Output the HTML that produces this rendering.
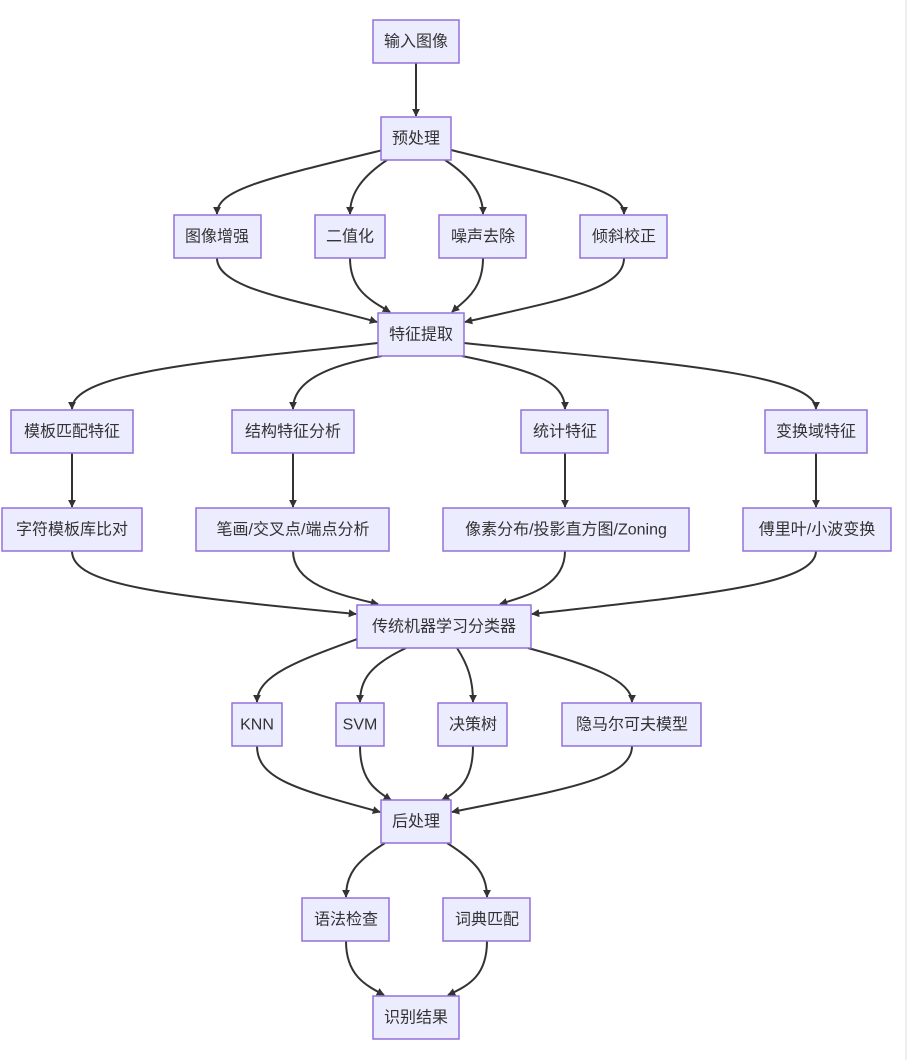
<!DOCTYPE html>
<html><head><meta charset="utf-8"><style>
html,body{margin:0;padding:0;background:#fff;width:918px;height:1060px;overflow:hidden}
svg{display:block}
text{font-family:"Liberation Sans","Noto Sans CJK SC",sans-serif;font-size:16px;fill:#333;text-anchor:middle;dominant-baseline:central}
.n{fill:#ECECFF;stroke:#9370DB;stroke-width:1.5}
.e{fill:none;stroke:#333;stroke-width:2}
</style></head><body>
<svg width="918" height="1060" viewBox="0 0 918 1060">
<defs><marker id="a" viewBox="0 0 10 10" refX="9" refY="5" markerWidth="8" markerHeight="8" markerUnits="userSpaceOnUse" orient="auto"><path d="M0,0L10,5L0,10z" fill="#333"/></marker></defs>
<line x1="906" y1="0" x2="906" y2="1060" stroke="#ddd" stroke-width="1"/>
<g class="e" marker-end="url(#a)">
<path d="M416,63L416,116"/>
<path d="M383,150C260,180 217,190 217,214"/>
<path d="M387,160C360,178 350,195 350,214"/>
<path d="M445,160C472,178 483,195 483,214"/>
<path d="M451,150C572,180 624,190 624,214"/>
<path d="M217,258C217,290 300,300 377,322"/>
<path d="M350,258C350,290 370,300 390,312"/>
<path d="M483,258C483,290 465,300 452,312"/>
<path d="M624,258C624,290 560,300 465,322"/>
<path d="M378,343C230,360 72,370 72,409"/>
<path d="M382,356C330,365 293,380 293,409"/>
<path d="M462,356C530,370 565,380 565,409"/>
<path d="M464,343C620,360 816,370 816,409"/>
<path d="M72,453L72,507"/>
<path d="M293,453L293,507"/>
<path d="M565,453L565,507"/>
<path d="M816,453L816,507"/>
<path d="M72,551C72,585 160,595 356,614"/>
<path d="M293,551C293,585 340,595 378,604"/>
<path d="M565,551C565,585 530,595 500,604"/>
<path d="M816,551C816,585 700,595 532,614"/>
<path d="M360,638C300,660 257,675 257,702"/>
<path d="M406,648C370,665 360,680 360,702"/>
<path d="M457,648C468,665 473,680 473,702"/>
<path d="M528,648C590,665 632,680 632,702"/>
<path d="M257,746C257,780 300,790 380,812"/>
<path d="M360,746C360,780 375,790 391,800"/>
<path d="M473,746C473,780 460,790 442,800"/>
<path d="M632,746C632,780 560,790 452,812"/>
<path d="M385,843C355,862 346,875 346,897"/>
<path d="M447,843C477,862 487,875 487,897"/>
<path d="M346,941C346,975 365,985 384,995"/>
<path d="M487,941C487,975 470,985 448,995"/>
</g>
<rect class="n" x="373" y="20" width="86" height="43"/><text x="416" y="42">输入图像</text>
<rect class="n" x="381" y="117" width="70" height="43"/><text x="416" y="139">预处理</text>
<rect class="n" x="174" y="215" width="87" height="43"/><text x="217" y="237">图像增强</text>
<rect class="n" x="315" y="215" width="70" height="43"/><text x="350" y="237">二值化</text>
<rect class="n" x="439" y="215" width="87" height="43"/><text x="483" y="237">噪声去除</text>
<rect class="n" x="580" y="215" width="87" height="43"/><text x="624" y="237">倾斜校正</text>
<rect class="n" x="378" y="313" width="86" height="43"/><text x="421" y="335">特征提取</text>
<rect class="n" x="11" y="410" width="122" height="43"/><text x="72" y="432">模板匹配特征</text>
<rect class="n" x="232" y="410" width="122" height="43"/><text x="293" y="432">结构特征分析</text>
<rect class="n" x="521" y="410" width="87" height="43"/><text x="565" y="432">统计特征</text>
<rect class="n" x="765" y="410" width="102" height="43"/><text x="816" y="432">变换域特征</text>
<rect class="n" x="2" y="508" width="140" height="43"/><text x="72" y="530">字符模板库比对</text>
<rect class="n" x="196" y="508" width="193" height="43"/><text x="293" y="530">笔画/交叉点/端点分析</text>
<rect class="n" x="443" y="508" width="246" height="43"/><text x="566" y="530">像素分布/投影直方图/Zoning</text>
<rect class="n" x="743" y="508" width="148" height="43"/><text x="817" y="530">傅里叶/小波变换</text>
<rect class="n" x="357" y="605" width="174" height="43"/><text x="444" y="627">传统机器学习分类器</text>
<rect class="n" x="232" y="703" width="50" height="43"/><text x="257" y="725">KNN</text>
<rect class="n" x="336" y="703" width="48" height="43"/><text x="360" y="725">SVM</text>
<rect class="n" x="438" y="703" width="69" height="43"/><text x="473" y="725">决策树</text>
<rect class="n" x="562" y="703" width="139" height="43"/><text x="632" y="725">隐马尔可夫模型</text>
<rect class="n" x="381" y="800" width="70" height="43"/><text x="416" y="822">后处理</text>
<rect class="n" x="302" y="898" width="87" height="43"/><text x="346" y="920">语法检查</text>
<rect class="n" x="443" y="898" width="87" height="43"/><text x="487" y="920">词典匹配</text>
<rect class="n" x="373" y="996" width="86" height="43"/><text x="416" y="1018">识别结果</text>
</svg>
</body></html>
